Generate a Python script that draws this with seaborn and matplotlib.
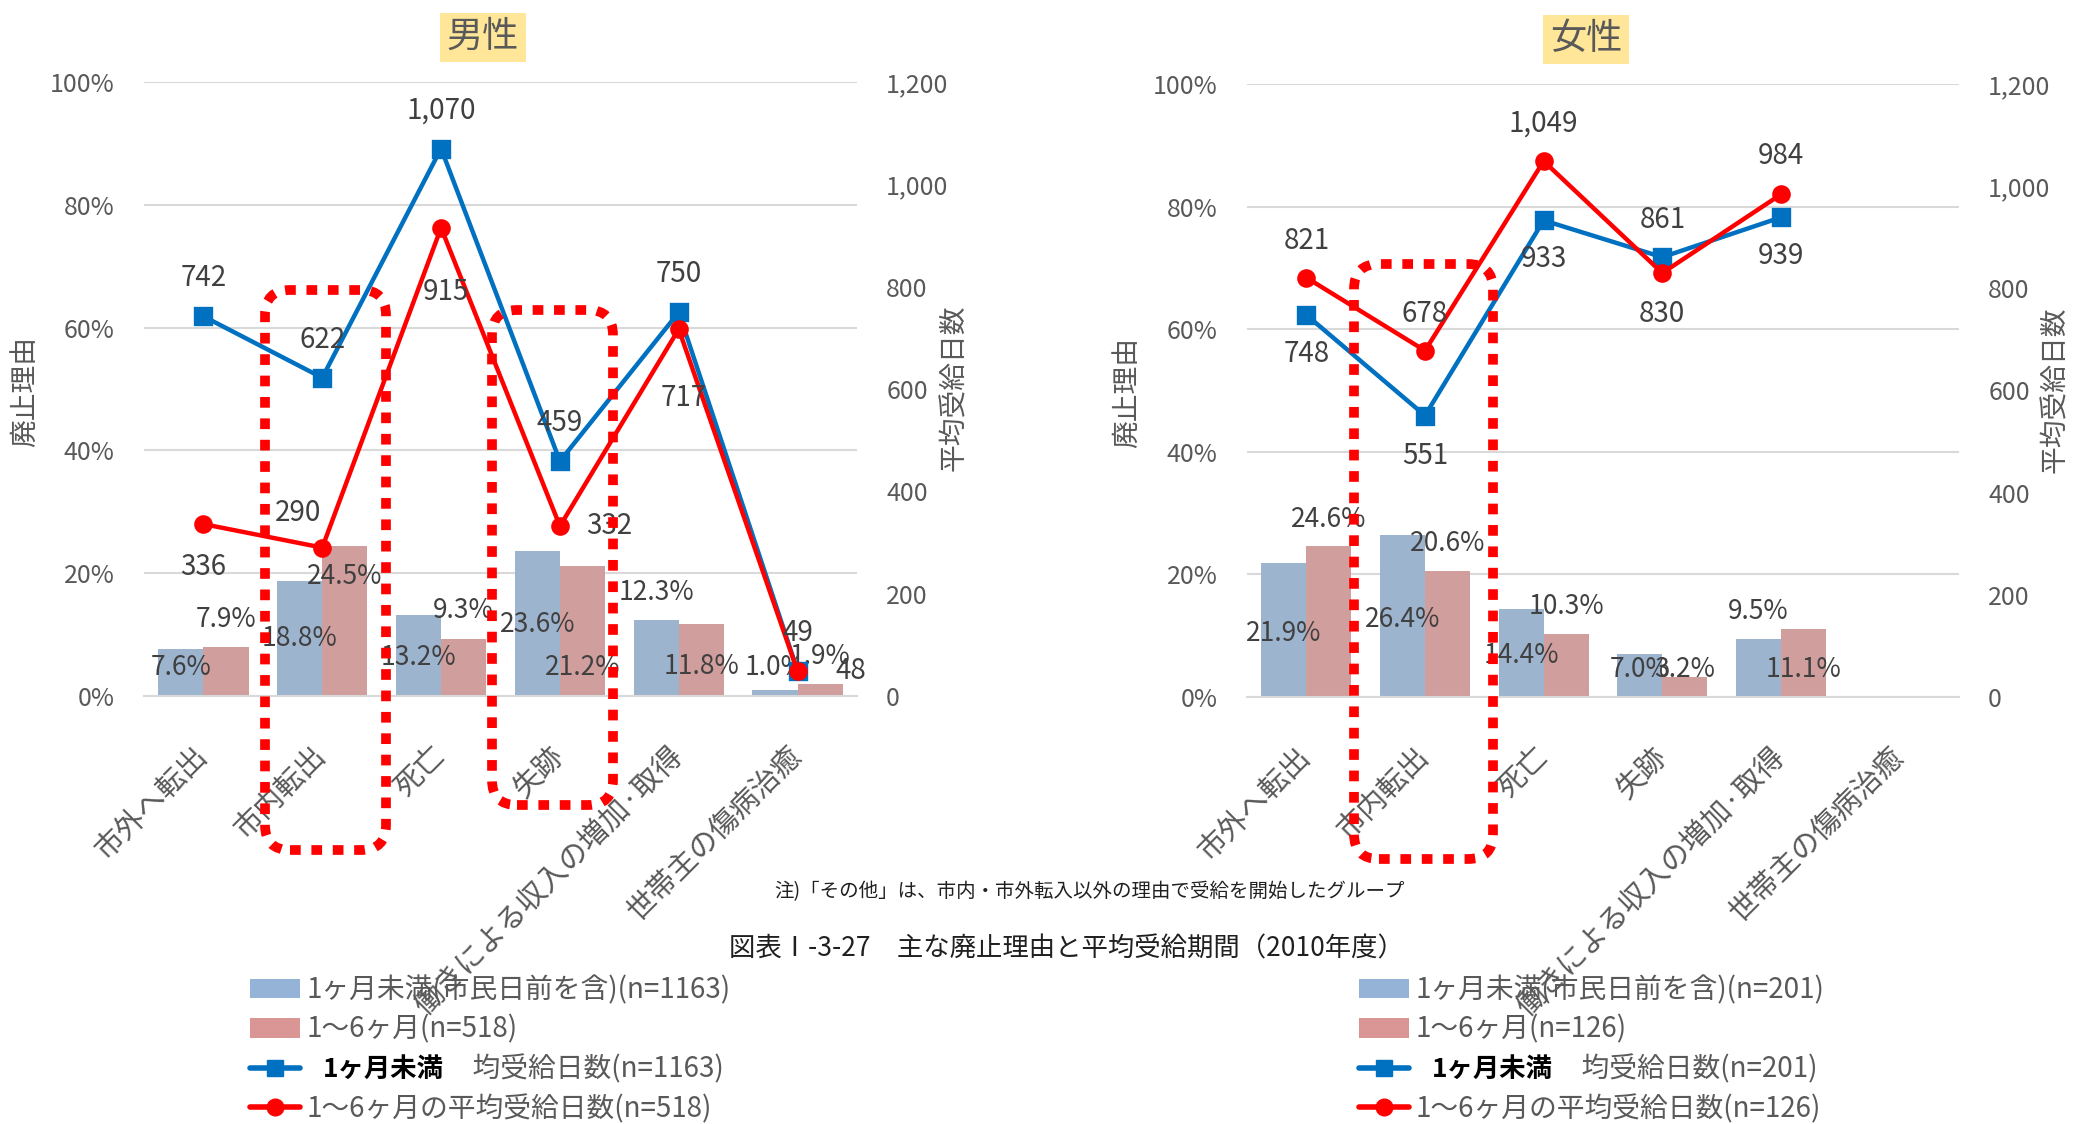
import numpy as np
import pandas as pd
import matplotlib.pyplot as plt
import seaborn as sns
from matplotlib.lines import Line2D
from matplotlib.patches import Patch, FancyBboxPatch
from matplotlib.ticker import FuncFormatter, MultipleLocator

# ---- data ----
reasons = ["市外へ転出", "市内転出", "死亡", "失跡", "働きによる収入の増加·取得", "世帯主の傷病治癒"]

male_short_pct = [7.6, 18.8, 13.2, 23.6, 12.3, 1.0]
male_mid_pct = [7.9, 24.5, 9.3, 21.2, 11.8, 1.9]
male_short_days = [742, 622, 1070, 459, 750, 49]
male_mid_days = [336, 290, 915, 332, 717, 48]

female_short_pct = [21.9, 26.4, 14.4, 7.0, 9.5, np.nan]
female_mid_pct = [24.6, 20.6, 10.3, 3.2, 11.1, np.nan]
female_short_days = [748, 551, 933, 861, 939, np.nan]
female_mid_days = [821, 678, 1049, 830, 984, np.nan]

male_legend = ["1ヶ月未満(市民日前を含)(n=1163)", "1～6ヶ月(n=518)",
               "均受給日数(n=1163)", "1～6ヶ月の平均受給日数(n=518)"]
female_legend = ["1ヶ月未満(市民日前を含)(n=201)", "1～6ヶ月(n=126)",
                 "均受給日数(n=201)", "1～6ヶ月の平均受給日数(n=126)"]
legend_bold = "1ヶ月未満"

note = "注)「その他」は、市内・市外転入以外の理由で受給を開始したグループ"
caption = "図表Ⅰ-3-27　主な廃止理由と平均受給期間（2010年度）"

# ---- label placement (positions only, as in the reference) ----
male_short_lab_y = [4.6, 9.4, 6.3, 11.7, 16.9, 4.6]
male_mid_lab_y = [12.4, 19.5, 14.0, 4.6, 4.8, 6.4]
female_short_lab_y = [10.3, 12.7, 6.8, 4.5, 14.0]
female_mid_lab_y = [29.0, 25.1, 14.8, 4.5, 4.5]

male_short_off = [(0, 38)] * 6
male_mid_off = [(0, -43), (-24, 35), (5, -64), (49, 0), (5, -69), (53, 0)]
female_short_off = [(0, -39), (0, -40), (0, -39), (0, 37), (0, -39)]
female_mid_off = [(0, 37), (0, 37), (0, 38), (0, -41), (0, 38)]

BLUE_BAR = "#95B3D7"
PINK_BAR = "#D99694"
BLUE_LINE = "#0070C0"
RED_LINE = "#FF0000"
GRID = "#D9D9D9"
TXT = "#595959"
LAB = "#404040"

sns.set_theme(style="white")
plt.rcParams["font.family"] = ["Noto Sans CJK JP", "DejaVu Sans"]

W, H = 2084, 1124
fig = plt.figure(figsize=(W / 100, H / 100), dpi=100)


def px(x0, y0, x1, y1):
    # pixel box (top-left origin) -> figure fraction rect
    return [x0 / W, 1 - y1 / H, (x1 - x0) / W, (y1 - y0) / H]


def panel(rect, short_pct, mid_pct, short_days, mid_days,
          short_lab_y, mid_lab_y, short_off, mid_off):
    ax = fig.add_axes(rect)
    df = pd.DataFrame({
        "reason": reasons * 2,
        "pct": short_pct + mid_pct,
        "group": ["short"] * len(reasons) + ["mid"] * len(reasons),
    })
    sns.barplot(data=df, x="reason", y="pct", hue="group", order=reasons,
                hue_order=["short", "mid"], palette=[BLUE_BAR, PINK_BAR],
                width=0.76, gap=0, linewidth=0, legend=False, ax=ax, zorder=2)
    ax.set_ylim(0, 100)
    ax.yaxis.set_major_locator(MultipleLocator(20))
    ax.yaxis.set_major_formatter(FuncFormatter(lambda v, p: f"{v:.0f}%"))
    ax.grid(axis="y", color=GRID, lw=1.5)
    ax.set_axisbelow(True)
    for s in ["top", "left", "right"]:
        ax.spines[s].set_visible(False)
    ax.spines["bottom"].set_color(GRID)
    ax.spines["bottom"].set_linewidth(1.5)
    ax.set_xlabel("")
    ax.set_ylabel("")

    # bar value labels
    for cont, vals, labs in [(ax.containers[0], short_pct, short_lab_y),
                             (ax.containers[1], mid_pct, mid_lab_y)]:
        bars = [b for b in cont if not np.isnan(b.get_height())]
        vv = [v for v in vals if not np.isnan(v)]
        for b, v, ly in zip(bars, vv, labs):
            ax.text(b.get_x() + b.get_width() / 2, ly, f"{v:.1f}%",
                    ha="center", va="center", fontsize=19, color=LAB, zorder=3)

    ax2 = ax.twinx()
    ldf = pd.DataFrame({"reason": reasons, "short": short_days, "mid": mid_days})
    sns.pointplot(data=ldf, x="reason", y="short", order=reasons, color=BLUE_LINE,
                  markers="s", errorbar=None, ax=ax2, markersize=11, linewidth=3.2)
    sns.pointplot(data=ldf, x="reason", y="mid", order=reasons, color=RED_LINE,
                  markers="o", errorbar=None, ax=ax2, markersize=11, linewidth=3.2)
    ax2.set_ylim(0, 1200)
    ax2.yaxis.set_major_locator(MultipleLocator(200))
    ax2.yaxis.set_major_formatter(FuncFormatter(lambda v, p: f"{v:,.0f}"))
    for s in ["top", "left", "right", "bottom"]:
        ax2.spines[s].set_visible(False)
    ax2.set_ylabel("")
    ax2.tick_params(axis="y", length=0, pad=21, labelsize=18, labelcolor=TXT)

    for vals, offs in [(short_days, short_off), (mid_days, mid_off)]:
        pts = [(i, v) for i, v in enumerate(vals) if not np.isnan(v)]
        for (i, v), (dx, dy) in zip(pts, offs):
            ax2.annotate(f"{v:,.0f}", (i, v), xytext=(dx, dy), textcoords="offset pixels",
                         ha="center", va="center", fontsize=20, color=LAB)

    ax.set_xlim(-0.5, len(reasons) - 0.5)
    ax.set_xticks(range(len(reasons)))
    ax.set_xticklabels(reasons, rotation=45, ha="right", va="center",
                       rotation_mode="anchor", fontsize=21, color=TXT)
    ax.tick_params(axis="x", length=0, pad=40)
    ax.tick_params(axis="y", length=0, pad=21, labelsize=18, labelcolor=TXT)
    return ax, ax2


panel(px(144, 82, 857, 696), male_short_pct, male_mid_pct, male_short_days, male_mid_days,
      male_short_lab_y, male_mid_lab_y, male_short_off, male_mid_off)
panel(px(1247, 84, 1959, 697), female_short_pct, female_mid_pct, female_short_days,
      female_mid_days, female_short_lab_y, female_mid_lab_y, female_short_off, female_mid_off)

# panel titles
for label, cx, cy in [("男性", 483, 37), ("女性", 1586, 39)]:
    fig.text(cx / W, 1 - cy / H, label, ha="center", va="center", fontsize=26, color=TXT,
             bbox=dict(boxstyle="square,pad=0.18", fc="#FFE699", ec="none"))

# axis titles
for label, cx, cy in [("廃止理由", 25, 391), ("平均受給日数", 954, 388),
                      ("廃止理由", 1127, 392), ("平均受給日数", 2055, 390)]:
    fig.text(cx / W, 1 - cy / H, label, rotation=90, ha="center", va="center",
             fontsize=20, color=TXT)

# red dashed highlight boxes
for x0, y0, x1, y1 in [(265, 290, 386, 850), (492, 310, 613, 805), (1354, 264, 1493, 859)]:
    box = FancyBboxPatch((x0 / W, 1 - y1 / H), (x1 - x0) / W, (y1 - y0) / H,
                         boxstyle="round,pad=0,rounding_size=0.012",
                         transform=fig.transFigure, fill=False, ec=RED_LINE, lw=7,
                         ls=(0, (1.1, 1.1)), zorder=10, mutation_aspect=W / H)
    box.set_capstyle("butt")
    fig.patches.append(box)

fig.text(1090 / W, 1 - 892 / H, note, ha="center", va="center", fontsize=14, color="#202020")
fig.text(1066 / W, 1 - 949 / H, caption, ha="center", va="center", fontsize=19, color="#202020")

# legends
legends = []
for labels, lx, ly in [(male_legend, 250, 975), (female_legend, 1359, 975)]:
    handles = [Patch(fc=BLUE_BAR, ec="none"), Patch(fc=PINK_BAR, ec="none"),
               Line2D([0], [0], color=BLUE_LINE, lw=4, marker="s", ms=12),
               Line2D([0], [0], color=RED_LINE, lw=4, marker="o", ms=12)]
    shown = list(labels)
    shown[2] = "\u3000" * 6 + labels[2]
    leg = fig.legend(handles, shown, loc="upper left", bbox_to_anchor=(lx / W, 1 - ly / H),
                     frameon=False, fontsize=20, handlelength=1.8, handletextpad=0.22,
                     labelspacing=0.35, borderaxespad=0, borderpad=0, labelcolor=TXT)
    legends.append(leg)

# black bold "1ヶ月未満" in the third legend row, as in the reference
fig.canvas.draw()
for leg in legends:
    bb = leg.get_texts()[2].get_window_extent()
    fig.text((bb.x0 + 17) / W, (bb.y0 + bb.y1) / 2 / H, legend_bold, ha="left", va="center",
             fontsize=19, fontweight="bold", color="black")

fig.savefig("out.png", dpi=100)
